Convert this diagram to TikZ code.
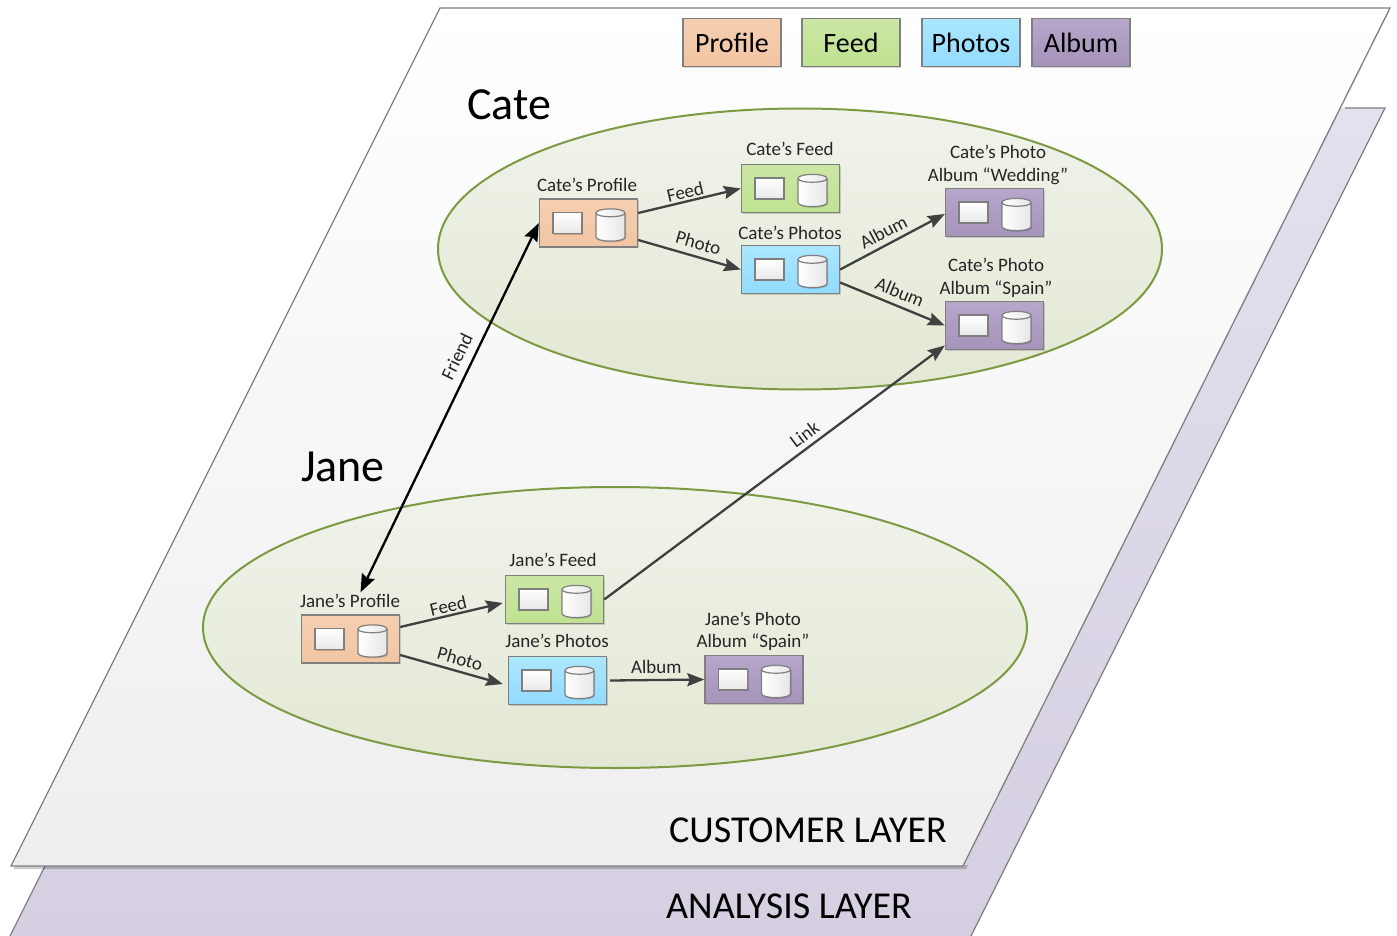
\documentclass[tikz,border=0pt]{standalone}
\usepackage{fontspec}
\setmainfont{Carlito}
\usetikzlibrary{arrows.meta,shadows,calc}
\definecolor{edgegray}{HTML}{7F7F7F}
\definecolor{arrowgray}{HTML}{404040}
\definecolor{olive}{HTML}{7C9A42}
\definecolor{proA}{HTML}{F5CFB2}\definecolor{proB}{HTML}{F2C5A2}
\definecolor{feeA}{HTML}{CBE6A4}\definecolor{feeB}{HTML}{BFE291}
\definecolor{phoA}{HTML}{ABE7FF}\definecolor{phoB}{HTML}{92DBFF}
\definecolor{albA}{HTML}{B6A7CB}\definecolor{albB}{HTML}{A693BA}
\definecolor{innA}{HTML}{E8E8E8}\definecolor{innB}{HTML}{E6E6E6}
\definecolor{ellA}{HTML}{F0F3EA}\definecolor{ellB}{HTML}{E3E8D4}
\definecolor{anaA}{HTML}{E4E0EE}\definecolor{anaB}{HTML}{D5CFE1}
\definecolor{cusB}{HTML}{EEEEEE}
\newcommand{\fs}[1]{\fontsize{#1}{22.5}\selectfont}
\tikzset{
  x=1pt,y=-1pt,
  softshadow/.style={drop shadow={shadow xshift=1pt,shadow yshift=-1.2pt,opacity=.16,fill=black}},
  tile/.style={draw=edgegray,line width=1.4pt,minimum width=98pt,minimum height=48pt,inner sep=0pt,softshadow},
  profilefill/.style={tile,top color=proA,bottom color=proB},
  feedfill/.style={tile,top color=feeA,bottom color=feeB},
  photosfill/.style={tile,top color=phoA,bottom color=phoB},
  albumfill/.style={tile,top color=albA,bottom color=albB},
  legendtext/.style={font=\fs{28}},
  boxlabel/.style={font=\fs{19},align=center,inner sep=0pt,text=black!85},
  biglabel/.style={font=\fs{46},inner sep=0pt},
  layerlabel/.style={font=\fs{38},inner sep=0pt},
  flow/.style={draw=arrowgray,line width=2.3pt,-{Stealth[length=17pt,width=13pt,inset=2.5pt]}},
  friendflow/.style={draw=black,line width=2.3pt,{Stealth[length=18pt,width=14pt,inset=2.5pt]}-{Stealth[length=18pt,width=14pt,inset=2.5pt]}},
  edgelabel/.style={font=\fs{19},inner sep=0pt,sloped,text=black!85},
  innerbox/.style={draw=edgegray,line width=1.2pt,top color=white,bottom color=innA,softshadow},
  innercyl/.style={draw=edgegray,line width=1.2pt,left color=white,right color=innB,softshadow},
  ellipseplate/.style={draw=olive,line width=2pt,top color=ellA,bottom color=ellB},
}
% name, cx, cy, style, label x, label y, label text
\newcommand{\svc}[7]{%
  \node[#4] (#1) at (#2,#3) {};
  \begin{scope}[shift={(#2,#3)}]
    \node[innerbox,minimum width=29pt,minimum height=21pt,inner sep=0pt] (#1-store) at (-21,0) {};
    \draw[innercyl] (7.5,-10) -- (7.5,14) .. controls (7.5,19.5) and (36.5,19.5) .. (36.5,14) -- (36.5,-10)
       .. controls (36.5,-15.5) and (7.5,-15.5) .. (7.5,-10) -- cycle;
    \draw[edgegray,line width=1.2pt] (7.5,-10) .. controls (7.5,-5) and (36.5,-5) .. (36.5,-10);
  \end{scope}
  \node[boxlabel] (#1-label) at (#5,#6) {#7};
}
\begin{document}
\begin{tikzpicture}
\useasboundingbox (0,0) rectangle (1397,936);
\fill[white] (0,0) rectangle (1397,936);
% layers
\shade[top color=anaA,bottom color=anaB] (1385,108) -- (971,936) -- (10,936) -- (424,108) -- cycle;
\draw[edgegray,line width=1.2pt] (1345,108) -- (1385,108) -- (971,936);
\draw[edgegray,line width=1.2pt] (10,936) -- (45,866);
\fill[black,opacity=.2] (14,869) -- (966,869) -- (968,865) -- (14,865) -- cycle;
\draw[edgegray,line width=1.3pt,top color=white,bottom color=cusB] (440,8) -- (1390,8) -- (963,866) -- (11,866) -- cycle;
% plates
\path[ellipseplate] (800,249) ellipse [x radius=362,y radius=140.5];
\path[ellipseplate] (615,627.5) ellipse [x radius=412,y radius=140.5];
% legend
\node[profilefill,legendtext] (legendprofile) at (732,42.5) {Profile};
\node[feedfill,legendtext] (legendfeed) at (851,42.5) {Feed};
\node[photosfill,legendtext] (legendphotos) at (971,42.5) {Photos};
\node[albumfill,legendtext] (legendalbum) at (1081,42.5) {Album};
% titles
\node[biglabel] (catetitle) at (509,105) {Cate};
\node[biglabel] (janetitle) at (343,467) {Jane};
\node[layerlabel] (customerlayer) at (808,830) {CUSTOMER LAYER};
\node[layerlabel] (analysislayer) at (789,906) {ANALYSIS LAYER};
% services
\svc{cprofile}{588.5}{223}{profilefill}{587}{185}{Cate’s Profile}
\svc{cfeed}{790.5}{188.5}{feedfill}{790}{149}{Cate’s Feed}
\svc{cphotos}{790.5}{269.5}{photosfill}{790}{233}{Cate’s Photos}
\svc{cwedding}{994.5}{212.5}{albumfill}{998}{165}{Cate’s Photo\\Album “Wedding”}
\svc{cspain}{994.5}{325.5}{albumfill}{996}{278}{Cate’s Photo\\Album “Spain”}
\svc{jprofile}{350.5}{639}{profilefill}{350}{601}{Jane’s Profile}
\svc{jfeed}{554.5}{599.5}{feedfill}{553}{560}{Jane’s Feed}
\svc{jphotos}{557.5}{680.5}{photosfill}{557}{641}{Jane’s Photos}
\svc{jalbum}{754}{679.5}{albumfill}{753}{631.5}{Jane’s Photo\\Album “Spain”}
% connectors
\draw[flow] ([yshift=10pt]cprofile.east) -- node[edgelabel,pos=.48,above=2pt]{Feed} (cfeed.west);
\draw[flow] ([yshift=-17pt]cprofile.east) -- node[edgelabel,pos=.55,above=6pt]{Photo} (cphotos.west);
\draw[flow] (cphotos.east) -- node[edgelabel,pos=.47,above=5pt]{Album} ([yshift=-1.5pt]cwedding.west);
\draw[flow] ([yshift=-13pt]cphotos.east) -- node[edgelabel,pos=.52,above=6pt]{Album} (cspain.west);
\draw[flow] (jfeed.east) -- node[edgelabel,pos=.61,above=5pt]{Link} ([yshift=-20pt]cspain.west);
\draw[flow] ([yshift=12pt]jprofile.east) -- node[edgelabel,pos=.49,above=2pt]{Feed} ([xshift=-2pt,yshift=-3.5pt]jfeed.west);
\draw[flow] ([yshift=-16pt]jprofile.east) -- node[edgelabel,pos=.55,above=5pt]{Photo} ([xshift=-5pt,yshift=-3.5pt]jphotos.west);
\draw[flow] ([xshift=3pt]jphotos.east) -- node[edgelabel,pos=.49,above=5pt]{Album} (jalbum.west);
\draw[friendflow] ([xshift=10pt,yshift=22pt]jprofile.north) -- node[edgelabel,pos=.62,above=8pt]{Friend} (cprofile.west);
\end{tikzpicture}
\end{document}
